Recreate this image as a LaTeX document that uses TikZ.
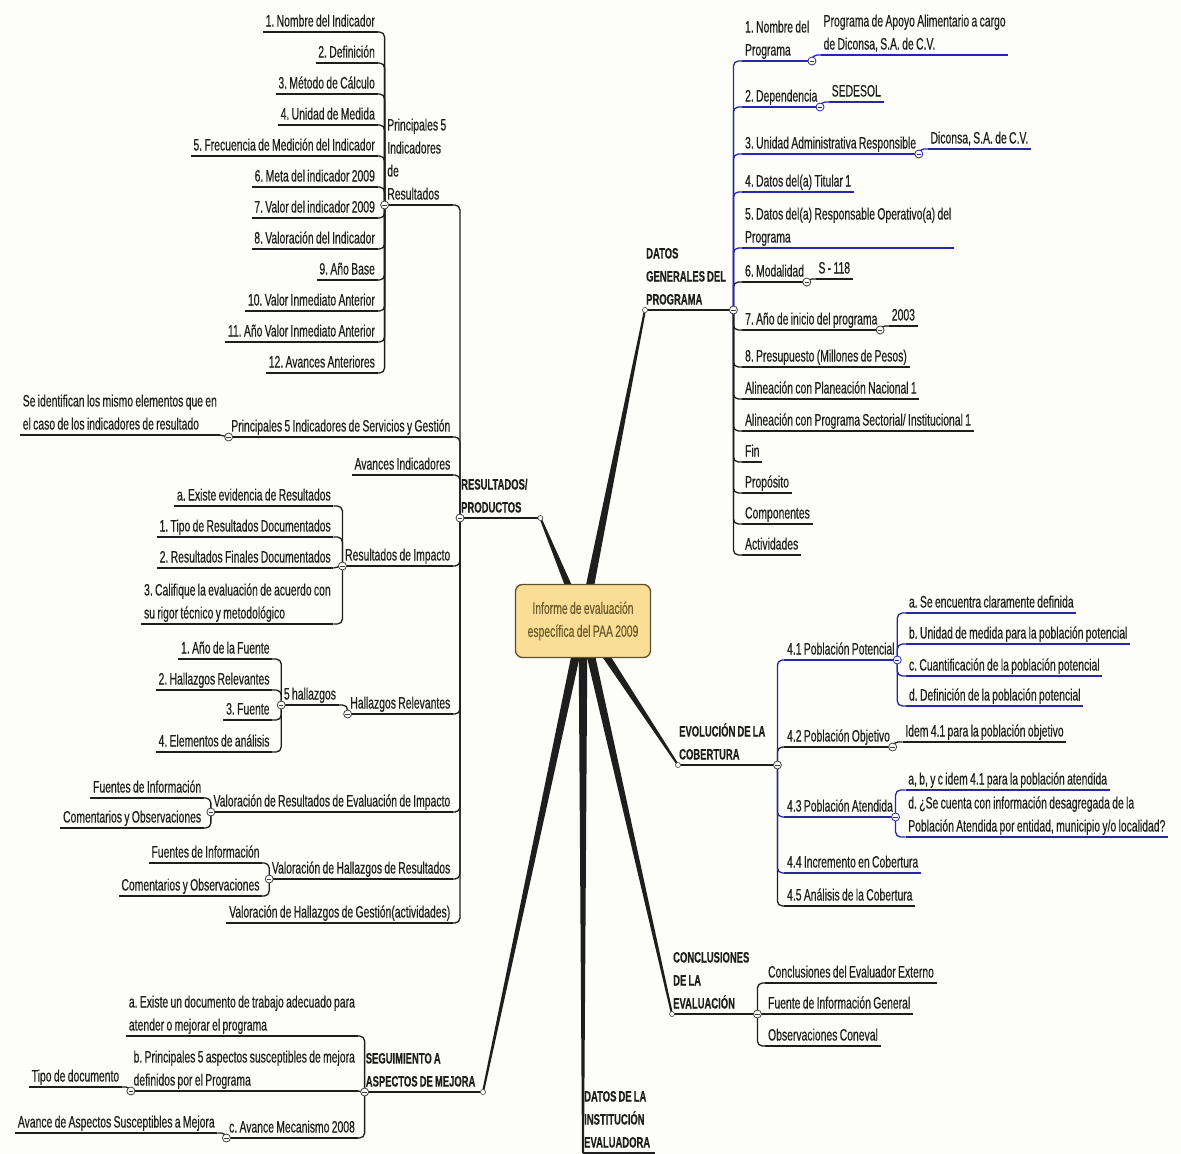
\documentclass[tikz,border=0pt]{standalone}
\usepackage{fontspec}
\setmainfont{Liberation Sans}[FakeStretch=0.63, WordSpace=0.8, FakeBold=0.4]
\usetikzlibrary{calc}
\definecolor{ink}{RGB}{30,30,30}
\definecolor{bl}{RGB}{40,40,165}
\definecolor{rootfill}{RGB}{250,222,150}
\definecolor{rootdraw}{RGB}{95,80,45}
\definecolor{roottxt}{RGB}{110,90,45}
\definecolor{paper}{RGB}{253,253,250}
\newcommand\myfont{\fontsize{16.5}{23}\selectfont\frenchspacing}
\newcommand\mybold{\fontsize{15}{23}\selectfont\bfseries\frenchspacing}
\newcommand\mystrut{\rule[-3.8pt]{0pt}{12pt}}
\newcommand\mytaper[2]{\fill[ink] ($(#1)!4.5pt!90:(#2)$) -- ($(#2)!1pt!-90:(#1)$) -- ($(#2)!1pt!90:(#1)$) -- ($(#1)!4.5pt!-90:(#2)$) -- cycle;}
\newcommand\wl[2]{\makebox[#1][l]{#2}}
\pgfdeclarelayer{bg}
\pgfsetlayers{bg,main}
\begin{document}
\begin{tikzpicture}[x=1pt,y=-1pt,
  base/.style={inner xsep=2.5pt, inner ysep=1.5pt, font=\myfont, text=ink, align=left,
    execute at begin node=\mystrut, execute at end node=\mystrut},
  ulk/.style={draw=ink, line width=1.5pt},
  ulb/.style={draw=bl, line width=1.5pt},
  tk/.style={base, append after command={(\tikzlastnode.south west) edge[ulk] (\tikzlastnode.south east)}},
  tb/.style={base, append after command={(\tikzlastnode.south west) edge[ulb] (\tikzlastnode.south east)}},
  mt/.style={base, inner xsep=1pt, font=\mybold, append after command={(\tikzlastnode.south west) edge[draw=ink, line width=2.2pt] (\tikzlastnode.south east)}},
  lt/.style={anchor=south east},
  rt/.style={anchor=south west},
  ck/.style={draw=ink, line width=1.3pt, rounded corners=5pt},
  cb/.style={draw=bl, line width=1.3pt, rounded corners=5pt},
  knob/.style={circle, draw=ink!85, fill=white, line width=0.8pt, minimum size=8pt, inner sep=0pt,
    path picture={\draw[line width=0.8pt] ([xshift=-2.2pt]path picture bounding box.center) -- ([xshift=2.2pt]path picture bounding box.center);}},
  knobb/.style={knob, draw=bl},
  enddot/.style={circle, draw=ink!75, fill=white, line width=0.7pt, minimum size=5pt, inner sep=0pt},
  rootbox/.style={draw=rootdraw, fill=rootfill, rounded corners=7pt, minimum width=135pt, minimum height=73pt,
    line width=1.3pt, text=roottxt, font=\myfont, align=center}
]
\useasboundingbox (0,0) rectangle (1181,1154);

% root and main topics
\node[rootbox] (root) at (583,621) {Informe de evaluación\\específica del PAA 2009};
\node[mt, rt] (dg) at (645,310) {\wl{86pt}{DATOS}\\GENERALES DEL\\PROGRAMA};
\node[mt, rt] (rp) at (460,518) {\wl{78pt}{RESULTADOS/}\\PRODUCTOS};
\node[mt, rt] (ev) at (678,765) {\wl{97pt}{EVOLUCIÓN DE LA}\\COBERTURA};
\node[mt, rt] (co) at (672,1014) {\wl{83pt}{CONCLUSIONES}\\DE LA\\EVALUACIÓN};
\node[mt, rt] (di) at (583,1153) {\wl{70pt}{DATOS DE LA}\\INSTITUCIÓN\\EVALUADORA};
\node[mt, lt] (sg) at (483,1092) {\wl{116pt}{SEGUIMIENTO A}\\ASPECTOS DE MEJORA};

% DATOS GENERALES DEL PROGRAMA
\node[tb, rt] (dg1) at ($(dg.south east)+(9,-249)$) {1. Nombre del\\Programa};
\node[tb, rt] (dg1a) at ($(dg1.south east)+(9,-6)$) {Programa de Apoyo Alimentario a cargo\\de Diconsa, S.A. de C.V.};
\node[tb, rt] (dg2) at ($(dg.south east)+(9,-203)$) {2. Dependencia};
\node[tb, rt] (dg2a) at ($(dg2.south east)+(9,-5)$) {SEDESOL};
\node[tb, rt] (dg3) at ($(dg.south east)+(9,-156)$) {3. Unidad Administrativa Responsible};
\node[tb, rt] (dg3a) at ($(dg3.south east)+(9,-5)$) {Diconsa, S.A. de C.V.};
\node[tb, rt] (dg4) at ($(dg.south east)+(9,-118)$) {4. Datos del(a) Titular 1};
\node[tb, rt] (dg5) at ($(dg.south east)+(9,-62)$) {5. Datos del(a) Responsable Operativo(a) del\\Programa};
\node[tk, rt] (dg6) at ($(dg.south east)+(9,-28)$) {6. Modalidad};
\node[tk, rt] (dg6a) at ($(dg6.south east)+(9,-3)$) {S - 118};
\node[tk, rt] (dg7) at ($(dg.south east)+(9,20)$) {7. Año de inicio del programa};
\node[tk, rt] (dg7a) at ($(dg7.south east)+(9,-4)$) {2003};
\node[tk, rt] (dg8) at ($(dg.south east)+(9,57)$) {8. Presupuesto (Millones de Pesos)};
\node[tk, rt] (dg9) at ($(dg.south east)+(9,89)$) {Alineación con Planeación Nacional 1};
\node[tk, rt] (dg10) at ($(dg.south east)+(9,121)$) {Alineación con Programa Sectorial/ Institucional 1};
\node[tk, rt] (dg11) at ($(dg.south east)+(9,152)$) {Fin};
\node[tk, rt] (dg12) at ($(dg.south east)+(9,183)$) {Propósito};
\node[tk, rt] (dg13) at ($(dg.south east)+(9,214)$) {Componentes};
\node[tk, rt] (dg14) at ($(dg.south east)+(9,245)$) {Actividades};

% EVOLUCION DE LA COBERTURA
\node[tb, rt] (ev1) at ($(ev.south east)+(7,-105)$) {4.1 Población Potencial};
\node[tb, rt] (ev1a) at ($(ev1.south east)+(9,-47)$) {a. Se encuentra claramente definida};
\node[tb, rt] (ev1b) at ($(ev1.south east)+(9,-16)$) {b. Unidad de medida para la población potencial};
\node[tb, rt] (ev1c) at ($(ev1.south east)+(9,16)$) {c. Cuantificación de la población potencial};
\node[tb, rt] (ev1d) at ($(ev1.south east)+(9,46)$) {d. Definición de la población potencial};
\node[tk, rt] (ev2) at ($(ev.south east)+(7,-18)$) {4.2 Población Objetivo};
\node[tk, rt] (ev2a) at ($(ev2.south east)+(10,-5)$) {Idem 4.1 para la población objetivo};
\node[tb, rt] (ev3) at ($(ev.south east)+(7,52)$) {4.3 Población Atendida};
\node[tb, rt] (ev3a) at ($(ev3.south east)+(10,-27)$) {a, b, y c idem 4.1 para la población atendida};
\node[tb, rt] (ev3b) at ($(ev3.south east)+(10,20)$) {d. ¿Se cuenta con información desagregada de la\\Población Atendida por entidad, municipio y/o localidad?};
\node[tb, rt] (ev4) at ($(ev.south east)+(7,108)$) {4.4 Incremento en Cobertura};
\node[tk, rt] (ev5) at ($(ev.south east)+(7,141)$) {4.5 Análisis de la Cobertura};

% CONCLUSIONES
\node[tk, rt] (co1) at ($(co.south east)+(8,-31)$) {Conclusiones del Evaluador Externo};
\node[tk, rt] (co2) at ($(co.south east)+(8,0)$) {Fuente de Información General};
\node[tk, rt] (co3) at ($(co.south east)+(8,32)$) {Observaciones Coneval};

% SEGUIMIENTO
\node[tk, lt] (sg1) at ($(sg.south west)+(-7,-56)$) {a. Existe un documento de trabajo adecuado para\\atender o mejorar el programa};
\node[tk, lt] (sg2) at ($(sg.south west)+(-7,-1)$) {b. Principales 5 aspectos susceptibles de mejora\\definidos por el Programa};
\node[tk, lt] (sg2a) at ($(sg2.south west)+(-9,-4)$) {Tipo de documento};
\node[tk, lt] (sg3) at ($(sg.south west)+(-7,46)$) {c. Avance Mecanismo 2008};
\node[tk, lt] (sg3a) at ($(sg3.south west)+(-9,-5)$) {Avance de Aspectos Susceptibles a Mejora};

% RESULTADOS / PRODUCTOS
\node[tk, lt] (rp1) at ($(rp.south west)+(-7,-313)$) {\wl{63pt}{Principales 5}\\Indicadores\\de\\Resultados};
\foreach \i/\dy/\txt in {1/-173/{1. Nombre del Indicador}, 2/-142/{2. Definición}, 3/-111/{3. Método de Cálculo},
  4/-80/{4. Unidad de Medida}, 5/-49/{5. Frecuencia de Medición del Indicador}, 6/-18/{6. Meta del indicador 2009},
  7/13/{7. Valor del indicador 2009}, 8/44/{8. Valoración del Indicador}, 9/75/{9. Año Base},
  10/106/{10. Valor Inmediato Anterior}, 11/137/{11. Año Valor Inmediato Anterior}, 12/168/{12. Avances Anteriores}}
  {\node[tk, lt] (rp1-\i) at ($(rp1.south west)+(-7,\dy)$) {\txt};}
\node[tk, lt] (rp2) at ($(rp.south west)+(-7,-81)$) {Principales 5 Indicadores de Servicios y Gestión};
\node[tk, lt] (rp2a) at ($(rp2.south west)+(-9,-2)$) {Se identifican los mismo elementos que en\\el caso de los indicadores de resultado};
\node[tk, lt] (rp3) at ($(rp.south west)+(-7,-43)$) {Avances Indicadores};
\node[tk, lt] (rp4) at ($(rp.south west)+(-7,48)$) {Resultados de Impacto};
\node[tk, lt] (rp4a) at ($(rp4.south west)+(-9,-60)$) {a. Existe evidencia de Resultados};
\node[tk, lt] (rp4b) at ($(rp4.south west)+(-9,-29)$) {1. Tipo de Resultados Documentados};
\node[tk, lt] (rp4c) at ($(rp4.south west)+(-9,2)$) {2. Resultados Finales Documentados};
\node[tk, lt] (rp4d) at ($(rp4.south west)+(-9,58)$) {3. Califique la evaluación de acuerdo con\\su rigor técnico y metodológico};
\node[tk, lt] (rp5) at ($(rp.south west)+(-7,196)$) {Hallazgos Relevantes};
\node[tk, lt] (rp5a) at ($(rp5.south west)+(-9,-9)$) {5 hallazgos};
\node[tk, lt] (rp5a1) at ($(rp5a.south west)+(-9,-46)$) {1. Año de la Fuente};
\node[tk, lt] (rp5a2) at ($(rp5a.south west)+(-9,-15)$) {2. Hallazgos Relevantes};
\node[tk, lt] (rp5a3) at ($(rp5a.south west)+(-9,15)$) {3. Fuente};
\node[tk, lt] (rp5a4) at ($(rp5a.south west)+(-9,47)$) {4. Elementos de análisis};
\node[tk, lt] (rp6) at ($(rp.south west)+(-7,294)$) {Valoración de Resultados de Evaluación de Impacto};
\node[tk, lt] (rp6a) at ($(rp6.south west)+(-7,-14)$) {Fuentes de Información};
\node[tk, lt] (rp6b) at ($(rp6.south west)+(-7,16)$) {Comentarios y Observaciones};
\node[tk, lt] (rp7) at ($(rp.south west)+(-7,361)$) {Valoración de Hallazgos de Resultados};
\node[tk, lt] (rp7a) at ($(rp7.south west)+(-7,-16)$) {Fuentes de Información};
\node[tk, lt] (rp7b) at ($(rp7.south west)+(-7,17)$) {Comentarios y Observaciones};
\node[tk, lt] (rp8) at ($(rp.south west)+(-7,405)$) {Valoración de Hallazgos de Gestión(actividades)};

% background and connectors
\begin{pgfonlayer}{bg}
\fill[paper] (0,0) rectangle (1181,1154);
\mytaper{root.center}{dg.south west}
\mytaper{root.center}{rp.south east}
\mytaper{root.center}{ev.south west}
\mytaper{root.center}{co.south west}
\mytaper{root.center}{di.south west}
\mytaper{root.center}{sg.south east}
% datos generales
\foreach \n in {6,...,14} {\draw[ck] (dg.south east) |- (dg\n.south west);}
\draw[ck] (dg6.south east) |- (dg6a.south west);
\draw[ck] (dg7.south east) |- (dg7a.south west);
\foreach \n in {1,...,5} {\draw[cb] (dg.south east) |- (dg\n.south west);}
\draw[cb] (dg1.south east) |- (dg1a.south west);
\draw[cb] (dg2.south east) |- (dg2a.south west);
\draw[cb] (dg3.south east) |- (dg3a.south west);
% evolucion
\draw[ck] (ev.south east) |- (ev2.south west);
\draw[ck] (ev.south east) |- (ev5.south west);
\draw[ck] (ev2.south east) |- (ev2a.south west);
\draw[cb] (ev.south east) |- (ev1.south west);
\draw[cb] (ev.south east) |- (ev3.south west);
\draw[cb] (ev.south east) |- (ev4.south west);
\foreach \n in {a,b,c,d} {\draw[cb] (ev1.south east) |- (ev1\n.south west);}
\draw[cb] (ev3.south east) |- (ev3a.south west);
\draw[cb] (ev3.south east) |- (ev3b.south west);
% conclusiones
\draw[ck] (co.south east) |- (co1.south west);
\draw[ck] (co.south east) -- (co2.south west);
\draw[ck] (co.south east) |- (co3.south west);
% seguimiento
\draw[ck] (sg.south west) |- (sg1.south east);
\draw[ck] (sg.south west) -- (sg2.south east);
\draw[ck] (sg.south west) |- (sg3.south east);
\draw[ck] (sg2.south west) |- (sg2a.south east);
\draw[ck] (sg3.south west) |- (sg3a.south east);
% resultados
\foreach \n in {1,2,3,4,5,6,7,8} {\draw[ck] (rp.south west) |- (rp\n.south east);}
\foreach \i in {1,...,12} {\draw[ck] (rp1.south west) |- (rp1-\i.south east);}
\draw[ck] (rp2.south west) -- (rp2a.south east);
\foreach \n in {a,b,d} {\draw[ck] (rp4.south west) |- (rp4\n.south east);}
\draw[ck] (rp4.south west) -- (rp4c.south east);
\draw[ck] (rp5.south west) |- (rp5a.south east);
\foreach \n in {1,2,3,4} {\draw[ck] (rp5a.south west) |- (rp5a\n.south east);}
\draw[ck] (rp6.south west) |- (rp6a.south east);
\draw[ck] (rp6.south west) |- (rp6b.south east);
\draw[ck] (rp7.south west) |- (rp7a.south east);
\draw[ck] (rp7.south west) |- (rp7b.south east);
\end{pgfonlayer}

% knobs and end dots
\node[knob] (dg-k) at (dg.south east) {};
\node[knobb] (dg1-k) at (dg1.south east) {};
\node[knobb] (dg2-k) at (dg2.south east) {};
\node[knobb] (dg3-k) at (dg3.south east) {};
\node[knob] (dg6-k) at (dg6.south east) {};
\node[knob] (dg7-k) at (dg7.south east) {};
\node[knob] (ev-k) at (ev.south east) {};
\node[knobb] (ev1-k) at (ev1.south east) {};
\node[knob] (ev2-k) at (ev2.south east) {};
\node[knobb] (ev3-k) at (ev3.south east) {};
\node[knob] (co-k) at (co.south east) {};
\node[knob] (sg-k) at (sg.south west) {};
\node[knob] (sg2-k) at (sg2.south west) {};
\node[knob] (sg3-k) at (sg3.south west) {};
\node[knob] (rp-k) at (rp.south west) {};
\node[knob] (rp1-k) at (rp1.south west) {};
\node[knob] (rp2-k) at (rp2.south west) {};
\node[knob] (rp4-k) at (rp4.south west) {};
\node[knob] (rp5-k) at (rp5.south west) {};
\node[knob] (rp5a-k) at (rp5a.south west) {};
\node[knob] (rp6-k) at (rp6.south west) {};
\node[knob] (rp7-k) at (rp7.south west) {};
\node[enddot] (dg-e) at (dg.south west) {};
\node[enddot] (rp-e) at (rp.south east) {};
\node[enddot] (ev-e) at (ev.south west) {};
\node[enddot] (co-e) at (co.south west) {};
\node[enddot] (sg-e) at (sg.south east) {};
\end{tikzpicture}
\end{document}
